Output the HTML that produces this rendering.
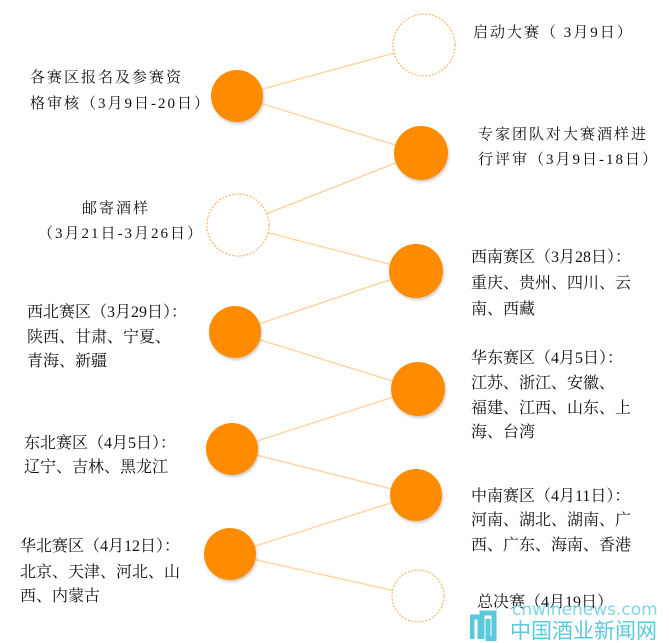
<!DOCTYPE html>
<html><head><meta charset="utf-8"><style>
html,body{margin:0;width:669px;height:643px;overflow:hidden}
body{background:#fff;position:relative;font-family:"Liberation Serif","Noto Serif CJK SC",serif;color:#111}
.t{position:absolute;font-size:16px;line-height:20px;white-space:nowrap}
.s{font-size:15px;letter-spacing:2px}
</style></head><body>
<svg width="669" height="643" style="position:absolute;left:0;top:0">
<defs><filter id="sh" x="-30%" y="-30%" width="160%" height="160%"><feDropShadow dx="1" dy="2" stdDeviation="1.2" flood-color="#000" flood-opacity="0.2"/></filter></defs>
<g stroke="#FDD6A4" stroke-width="1.5" fill="none">
<polyline points="424,45 237,96 421,153 238,225 416,271 235,332 418,389 232,449 416,495 230,554 418,596"/>
</g>
<g fill="#fff" stroke="#F9B868" stroke-width="1.2" stroke-dasharray="2,1.5">
<circle cx="424" cy="45" r="31"/>
<circle cx="238" cy="225" r="31"/>
<circle cx="418" cy="596" r="26"/>
</g>
<g fill="#FF8C00" filter="url(#sh)">
<circle cx="237" cy="96" r="26"/>
<circle cx="421" cy="153" r="27"/>
<circle cx="416" cy="271" r="27"/>
<circle cx="235" cy="332" r="26"/>
<circle cx="418" cy="389" r="27"/>
<circle cx="232" cy="449" r="26"/>
<circle cx="416" cy="495" r="26"/>
<circle cx="230" cy="554" r="26"/>
</g>
</svg>
<div class="t s" style="left:473px;top:23px">启动大赛（ 3月9日）</div>
<div class="t s" style="left:30px;top:68px">各赛区报名及参赛资</div>
<div class="t s" style="left:30px;top:94px">格审核（3月9日-20日）</div>
<div class="t s" style="left:478px;top:125px">专家团队对大赛酒样进</div>
<div class="t s" style="left:478px;top:150px">行评审（3月9日-18日）</div>
<div class="t s" style="left:82px;top:199px">邮寄酒样</div>
<div class="t s" style="left:38px;top:224px">（3月21日-3月26日）</div>
<div class="t" style="left:471px;top:248px">西南赛区（3月28日）：</div>
<div class="t" style="left:471px;top:274px">重庆、贵州、四川、云</div>
<div class="t" style="left:471px;top:300px">南、西藏</div>
<div class="t" style="left:27px;top:303px">西北赛区（3月29日）：</div>
<div class="t" style="left:27px;top:328px">陕西、甘肃、宁夏、</div>
<div class="t" style="left:27px;top:352px">青海、新疆</div>
<div class="t" style="left:471px;top:349px">华东赛区（4月5日）：</div>
<div class="t" style="left:471px;top:374px">江苏、浙江、安徽、</div>
<div class="t" style="left:471px;top:399px">福建、江西、山东、上</div>
<div class="t" style="left:471px;top:423px">海、台湾</div>
<div class="t" style="left:24px;top:434px">东北赛区（4月5日）：</div>
<div class="t" style="left:24px;top:458px">辽宁、吉林、黑龙江</div>
<div class="t" style="left:471px;top:487px">中南赛区（4月11日）：</div>
<div class="t" style="left:471px;top:511px">河南、湖北、湖南、广</div>
<div class="t" style="left:471px;top:536px">西、广东、海南、香港</div>
<div class="t" style="left:20px;top:537px">华北赛区（4月12日）：</div>
<div class="t" style="left:20px;top:563px">北京、天津、河北、山</div>
<div class="t" style="left:20px;top:587px">西、内蒙古</div>
<div class="t" style="left:477px;top:593px">总决赛（4月19日）</div>
<div style="position:absolute;left:470px;top:609px;width:28px;height:32px;">
<svg width="28" height="32"><path d="M2 30 V8 H10 V30 M12 30 V4 H24 V30 H18 V10" fill="none" stroke="#5BC8DC" stroke-width="5"/></svg></div>
<div style="position:absolute;left:512px;top:601px;font-family:'DejaVu Sans',sans-serif;font-size:17px;color:#7fd6e6;line-height:18px;white-space:nowrap">cnwinenews.com</div>
<div style="position:absolute;left:510px;top:617px;font-family:'Noto Sans CJK SC',sans-serif;font-size:21px;color:#5BC8DC;line-height:26px;white-space:nowrap">中国酒业新闻网</div>
</body></html>
